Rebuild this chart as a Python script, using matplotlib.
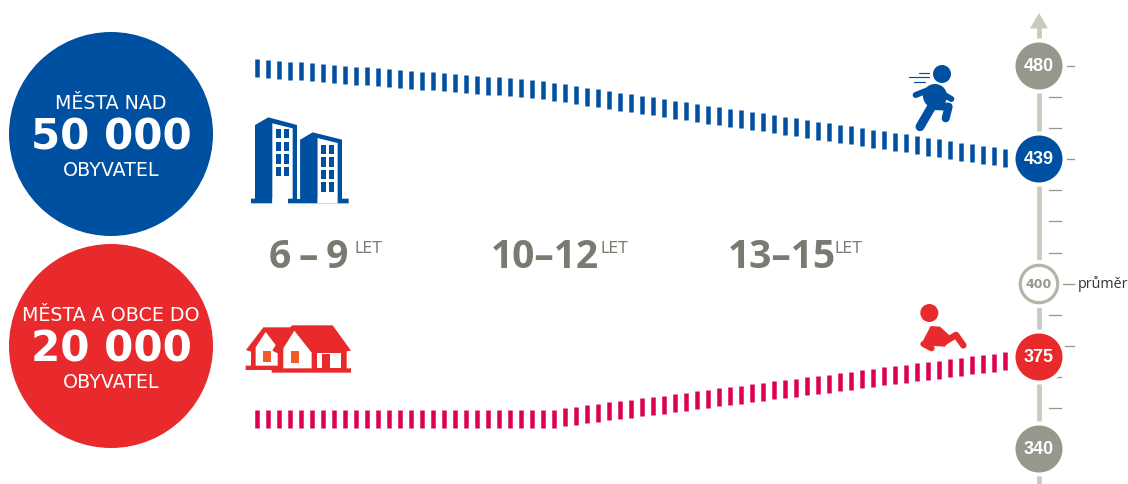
import numpy as np
import matplotlib
matplotlib.use("Agg")
import matplotlib.pyplot as plt
from matplotlib.patches import Circle, Polygon, Rectangle

# ---- data ----
age_groups = ["6\u2009–\u20099", "10–12", "13–15"]
age_unit = "LET"
scale_scores = [340, 375, 400, 439, 480]
scale_labels = ["340", "375", "400", "439", "480"]
average_label = "průměr"
big_titles = ["MĚSTA NAD", "MĚSTA A OBCE DO"]
big_numbers = ["50 000", "20 000"]
big_subtitle = "OBYVATEL"
blue_scores = [479.0, 478.6, 478.3, 477.9, 477.6, 477.2, 476.8, 476.5, 476.1, 475.8,
               475.4, 475.0, 474.7, 474.3, 474.0, 473.6, 473.2, 472.9, 472.5, 472.2,
               471.8, 471.4, 471.1, 470.7, 470.4, 470.0, 469.3, 468.6, 467.9, 467.2,
               466.5, 465.7, 465.0, 464.3, 463.6, 462.9, 462.2, 461.5, 460.8, 460.1,
               459.4, 458.6, 457.9, 457.2, 456.5, 455.8, 455.1, 454.4, 453.7, 453.0,
               452.3, 451.5, 450.8, 450.1, 449.4, 448.7, 448.0, 447.3, 446.6, 445.9,
               445.2, 444.4, 443.7, 443.0, 442.3, 441.6, 440.9, 440.2, 439.5]
red_scores = [351.4, 351.4, 351.4, 351.4, 351.4, 351.4, 351.4, 351.4, 351.4, 351.4,
              351.4, 351.4, 351.4, 351.4, 351.4, 351.4, 351.4, 351.4, 351.4, 351.4,
              351.4, 351.4, 351.4, 351.4, 351.4, 351.4, 351.4, 351.6, 352.1, 352.7,
              353.2, 353.8, 354.3, 354.8, 355.4, 355.9, 356.4, 356.9, 357.5, 358.0,
              358.5, 359.1, 359.6, 360.1, 360.7, 361.2, 361.7, 362.3, 362.8, 363.3,
              363.8, 364.4, 364.9, 365.4, 366.0, 366.5, 367.0, 367.6, 368.1, 368.6,
              369.2, 369.7, 370.2, 370.7, 371.3, 371.8, 372.3, 372.9, 373.4]

# ---- styling ----
BLUE = "#0050a2"
RED = "#e82a2c"
DASH_RED = "#dc0052"
GREY = "#97978c"
AXIS = "#c9c9bc"
LABEL = "#7a7a72"
ORANGE = "#f15a29"
pt = 0.72  # px -> pt at 100 dpi

fig = plt.figure(figsize=(11.28, 4.84), dpi=100, facecolor="white")
ax = fig.add_axes([0, 0, 1, 1])
ax.set_xlim(0, 1128)
ax.set_ylim(484, 0)
ax.axis("off")

scale_y = [449, 357, 284, 159, 66]
to_y = lambda s: np.interp(s, scale_scores, scale_y)

# ---- dashed series ----
for scores, col in ((blue_scores, BLUE), (red_scores, DASH_RED)):
    xs = np.linspace(257, 1005, len(scores))
    ys = to_y(np.array(scores))
    ax.vlines(xs, ys - 9, ys + 9, colors=col, linewidth=4.5 * pt, zorder=2)

# ---- vertical scale ----
ax.plot([1039, 1039], [26, 484], color=AXIS, lw=4.7 * pt, solid_capstyle="butt", zorder=1)
ax.add_patch(Polygon([(1030, 28.5), (1039, 13), (1048, 28.5)], color=AXIS, lw=0, zorder=1))
for y in (97, 128, 190, 221, 253, 315, 377, 408):
    ax.plot([1049, 1061], [y, y], color=GREY, lw=1.3 * pt, zorder=1)
for y, x0 in ((66, 1067), (159, 1067), (284, 1063), (346, 1065)):
    ax.plot([x0, 1074], [y, y], color=GREY, lw=1.3 * pt, zorder=1)

fills = {340: GREY, 375: RED, 439: BLUE, 480: GREY}
for s, lab in zip(scale_scores, scale_labels):
    y = to_y(s)
    if s == 400:
        ax.add_patch(Circle((1039, y), 24, fc="white", ec="none", zorder=3))
        ax.add_patch(Circle((1039, y), 18.7, fc="white", ec="#b4b4a8", lw=3.2 * pt, zorder=4))
        ax.text(1039, y + 0.5, lab, ha="center", va="center", color=GREY, fontsize=12.5 * pt,
                family="DejaVu Sans", fontweight="bold", zorder=5)
    else:
        ax.add_patch(Circle((1039, y), 27.5, fc="white", ec="none", zorder=3))
        ax.add_patch(Circle((1039, y), 23.5, fc=fills[s], ec="none", zorder=4))
        ax.text(1038.5, y + 0.5, lab, ha="center", va="center", color="white", fontsize=18 * pt,
                family="Liberation Sans", fontweight="bold", zorder=5)
ax.text(1078, 288, average_label, ha="left", va="baseline", color="#333333", fontsize=14.2 * pt,
        family="Open Sans", clip_on=False)

# ---- big circles ----
for cy, col, title, num in ((134, BLUE, big_titles[0], big_numbers[0]),
                            (346, RED, big_titles[1], big_numbers[1])):
    ax.add_patch(Circle((111, cy), 102, fc=col, ec="none"))
    ax.text(111, cy - 25, title, ha="center", va="baseline", color="white",
            fontsize=19 * pt, family="DejaVu Sans")
    ax.text(111, cy + 16, num, ha="center", va="baseline", color="white",
            fontsize=42 * pt, family="DejaVu Sans", fontweight="bold")
    ax.text(111, cy + 42, big_subtitle, ha="center", va="baseline", color="white",
            fontsize=19 * pt, family="DejaVu Sans")

# ---- age group labels ----
for lab, xl, xu in zip(age_groups, (269, 491, 728), (354, 600, 835)):
    ax.text(xl, 268, lab, ha="left", va="baseline", color=LABEL, fontsize=39 * pt,
            family=["Open Sans", "DejaVu Sans"], fontweight="bold")
    ax.text(xu, 253, age_unit, ha="left", va="baseline", color=LABEL, fontsize=15.5 * pt,
            family="DejaVu Sans")

# ---- icons ----
def z(pts, x0, y0):
    return [(x0 + a / 3, y0 + b / 3) for a, b in pts]

def poly(pts, x0, y0, col, zo=2):
    ax.add_patch(Polygon(z(pts, x0, y0), closed=True, fc=col, ec="none", zorder=zo))

def stroke(pts, x0, y0, col, w):
    p = np.array(z(pts, x0, y0))
    ax.plot(p[:, 0], p[:, 1], color=col, lw=w * pt, solid_capstyle="round",
            solid_joinstyle="round", zorder=2)

# buildings
bx, by = 240, 40
poly([(45, 255), (85, 232), (171, 255), (171, 476), (181, 476), (181, 299), (218, 277), (306, 299),
      (306, 476), (326, 476), (326, 490), (145, 490), (145, 476), (97, 476), (97, 490), (33, 490),
      (33, 476), (45, 476)], bx, by, BLUE)
poly([(97, 250), (158, 265), (158, 476), (145, 476), (145, 490), (97, 490)], bx, by, "white", 3)
poly([(232, 294), (293, 309), (293, 490), (232, 490)], bx, by, "white", 3)
poly([(171, 300), (181, 300), (181, 476), (171, 476)], bx, by, "white", 3)
poly([(145, 476), (232, 476), (232, 490), (145, 490)], bx, by, BLUE, 4)
poly([(181, 299), (232, 290), (232, 476), (181, 476)], bx, by, BLUE, 4)
for x0, x1 in ((107, 123), (132, 147)):
    for y0, y1 in ((267, 295), (305, 333), (343, 371), (380, 407)):
        poly([(x0, y0), (x1, y0), (x1, y1), (x0, y1)], bx, by, BLUE, 4)
for x0, x1 in ((243, 259), (268, 283)):
    for y0, y1 in ((314, 342), (351, 380), (389, 417), (427, 455)):
        poly([(x0, y0), (x1, y0), (x1, y1), (x0, y1)], bx, by, BLUE, 4)

# houses
hx, hy = 235, 310
poly([(33, 120), (85, 52), (165, 52), (172, 46), (293, 46), (348, 122), (335, 124), (335, 175),
      (348, 175), (348, 188), (110, 188), (110, 180), (32, 180), (32, 167), (48, 167), (48, 125)],
     hx, hy, RED)
poly([(62, 112), (92, 66), (122, 105), (112, 122), (128, 130), (128, 167), (62, 167)], hx, hy, "white", 3)
poly([(145, 115), (178, 62), (230, 128), (230, 175), (145, 175)], hx, hy, "white", 3)
poly([(245, 128), (318, 128), (318, 175), (286, 175), (286, 132), (260, 132), (260, 175), (245, 175)],
     hx, hy, "white", 3)
poly([(84, 123), (108, 123), (108, 155), (84, 155)], hx, hy, ORANGE, 4)
poly([(168, 123), (192, 123), (192, 158), (168, 158)], hx, hy, ORANGE, 4)

# runner
rx, ry = 890, 0
ax.add_patch(Circle((rx + 156 / 3, ry + 222 / 3), 9, fc=BLUE, ec="none"))
ax.add_patch(Circle((rx + 135 / 3, ry + 288 / 3), 12, fc=BLUE, ec="none"))
stroke([(77, 285), (130, 264)], rx, ry, BLUE, 6)
stroke([(155, 280), (184, 297)], rx, ry, BLUE, 6)
stroke([(125, 320), (90, 380)], rx, ry, BLUE, 9)
stroke([(130, 318), (176, 320), (167, 355)], rx, ry, BLUE, 8)
for a, b, yy in ((87, 118, 220), (57, 118, 232), (72, 105, 245)):
    stroke([(a, yy), (b, yy)], rx, ry, BLUE, 1.2)

# baby
cx, cy = 890, 240
ax.add_patch(Circle((cx + 118 / 3, cy + 219 / 3), 9, fc=RED, ec="none"))
poly([(122, 258), (150, 260), (185, 292), (165, 320), (130, 318), (95, 310)], cx, cy, RED)
stroke([(165, 305), (198, 285), (220, 316)], cx, cy, RED, 6.5)
stroke([(100, 312), (125, 325)], cx, cy, RED, 6)

fig.savefig("out.png", dpi=100, facecolor="white")
